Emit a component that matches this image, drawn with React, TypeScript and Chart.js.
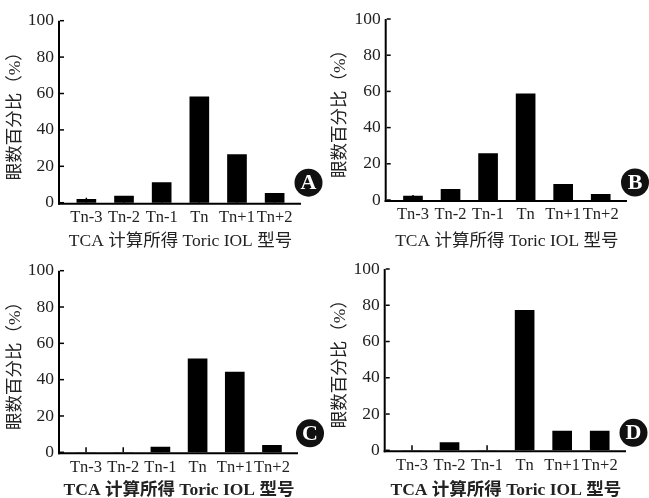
import React, { useEffect, useRef } from "react";
import { Chart, registerables } from "chart.js";

Chart.register(...registerables);

const categories = ["Tn-3", "Tn-2", "Tn-1", "Tn", "Tn+1", "Tn+2"];
const valuesA = [1.8, 3.7, 11.0, 58.2, 26.4, 5.2];
const valuesB = [2.2, 5.9, 25.6, 58.6, 8.7, 3.1];
const valuesC = [0, 0, 2.9, 51.5, 44.2, 3.9];
const valuesD = [0, 4.2, 0, 77.2, 10.6, 10.6];
const yTickValues = [0, 20, 40, 60, 80, 100];
const yTitle = "眼数百分比（%）";
const xTitle = "TCA 计算所得 Toric IOL 型号";
const panelLetters = ["A", "B", "C", "D"];

const FONT_FAMILY = "'Liberation Serif', 'Noto Sans CJK SC', serif";
const TEXT_COLOR = "#222";
const W = 325;
const H = 249;

type Panel = {
  values: number[];
  letter: string;
  x: number;
  y: number;
  left: number;
  right: number;
  top: number;
  bottom: number;
  boldTitle: boolean;
  badgeDx: number;
  badgeDy: number;
};

const panels: Panel[] = [
  { values: valuesA, letter: panelLetters[0], x: 0, y: 0, left: 60, right: 301, top: 20.7, bottom: 202.7, boldTitle: false, badgeDx: 7.5, badgeDy: -20 },
  { values: valuesB, letter: panelLetters[1], x: 325, y: 0, left: 61.7, right: 302, top: 19, bottom: 200, boldTitle: false, badgeDx: 8, badgeDy: -17.5 },
  { values: valuesC, letter: panelLetters[2], x: 0, y: 249, left: 60, right: 298, top: 21.7, bottom: 203.3, boldTitle: true, badgeDx: 12, badgeDy: -19 },
  { values: valuesD, letter: panelLetters[3], x: 325, y: 249, left: 60.7, right: 301, top: 20, bottom: 201.3, boldTitle: true, badgeDx: 7.5, badgeDy: -17.5 },
];

function makeAxisPlugin(p: Panel) {
  return {
    id: "customAxes" + p.letter,
    afterDatasetsDraw(chart: any) {
      const ctx = chart.ctx as CanvasRenderingContext2D;
      const area = chart.chartArea;
      const xs = chart.scales.x;
      const ys = chart.scales.y;
      ctx.save();
      ctx.strokeStyle = "#000";
      ctx.lineWidth = 2;
      ctx.beginPath();
      ctx.moveTo(area.left - 1, area.top);
      ctx.lineTo(area.left - 1, area.bottom + 2);
      ctx.stroke();
      ctx.beginPath();
      ctx.moveTo(area.left - 2, area.bottom + 1);
      ctx.lineTo(area.right, area.bottom + 1);
      ctx.stroke();
      ctx.lineWidth = 1.5;
      yTickValues.forEach((v) => {
        const py = ys.getPixelForValue(v);
        ctx.beginPath();
        ctx.moveTo(area.left, py);
        ctx.lineTo(area.left + 4, py);
        ctx.stroke();
      });
      categories.forEach((_, i) => {
        const px = xs.getPixelForValue(i);
        ctx.beginPath();
        ctx.moveTo(px, area.bottom);
        ctx.lineTo(px, area.bottom - 5);
        ctx.stroke();
      });
      const cx = area.right + p.badgeDx;
      const cy = area.bottom + p.badgeDy;
      ctx.fillStyle = "#111";
      ctx.beginPath();
      ctx.arc(cx, cy, 14, 0, Math.PI * 2);
      ctx.fill();
      ctx.fillStyle = "#fff";
      ctx.font = "bold 22px 'Liberation Serif', serif";
      ctx.textAlign = "center";
      ctx.textBaseline = "middle";
      ctx.fillText(p.letter, cx, cy + 1);
      ctx.restore();
    },
  };
}

function PanelChart({ p }: { p: Panel }) {
  const ref = useRef<HTMLCanvasElement | null>(null);
  useEffect(() => {
    if (!ref.current) return;
    const font = { family: FONT_FAMILY, size: 17.5 };
    const xFont = { family: FONT_FAMILY, size: 16.5 };
    const chart = new Chart(ref.current, {
      type: "bar",
      data: {
        datasets: [
          {
            data: p.values.map((v, i) => ({ x: i, y: v })),
            backgroundColor: "#000",
            borderWidth: 0,
            barThickness: 19,
          } as any,
        ],
      },
      options: {
        animation: false,
        responsive: false,
        maintainAspectRatio: false,
        events: [],
        layout: { padding: { top: p.top, right: W - p.right, left: 0, bottom: 0 } },
        plugins: { legend: { display: false }, tooltip: { enabled: false } },
        scales: {
          x: {
            type: "linear",
            min: -0.7,
            max: 5.7,
            offset: false,
            grid: { display: false, drawTicks: false },
            border: { display: false },
            afterBuildTicks: (s: any) => {
              s.ticks = categories.map((_, i) => ({ value: i }));
            },
            ticks: {
              autoSkip: false,
              maxRotation: 0,
              minRotation: 0,
              padding: 5,
              color: TEXT_COLOR,
              font: xFont,
              callback: (v: any) => categories[v] ?? "",
            },
            title: {
              display: true,
              text: xTitle,
              color: TEXT_COLOR,
              font: { ...font, weight: p.boldTitle ? "bold" : "normal" },
              padding: { top: 0, bottom: -3 },
            },
            afterFit: (s: any) => {
              s.height = H - p.bottom;
            },
          } as any,
          y: {
            min: 0,
            max: 100,
            grid: { display: false, drawTicks: false },
            border: { display: false },
            afterBuildTicks: (s: any) => {
              s.ticks = yTickValues.map((v) => ({ value: v }));
            },
            ticks: { padding: 6, color: TEXT_COLOR, font },
            title: {
              display: true,
              text: yTitle,
              color: TEXT_COLOR,
              font,
              padding: { top: 5, bottom: 0 },
            },
            afterFit: (s: any) => {
              s.width = p.left;
            },
          } as any,
        },
      },
      plugins: [makeAxisPlugin(p)],
    });
    return () => chart.destroy();
  }, [p]);
  return (
    <canvas
      ref={ref}
      width={W}
      height={H}
      style={{ position: "absolute", left: p.x, top: p.y, width: W, height: H }}
    />
  );
}

export default function App() {
  return (
    <div
      style={{
        position: "fixed",
        left: 0,
        top: 0,
        width: 649,
        height: 498,
        background: "#fff",
        overflow: "hidden",
      }}
    >
      {panels.map((p) => (
        <PanelChart key={p.letter} p={p} />
      ))}
    </div>
  );
}
